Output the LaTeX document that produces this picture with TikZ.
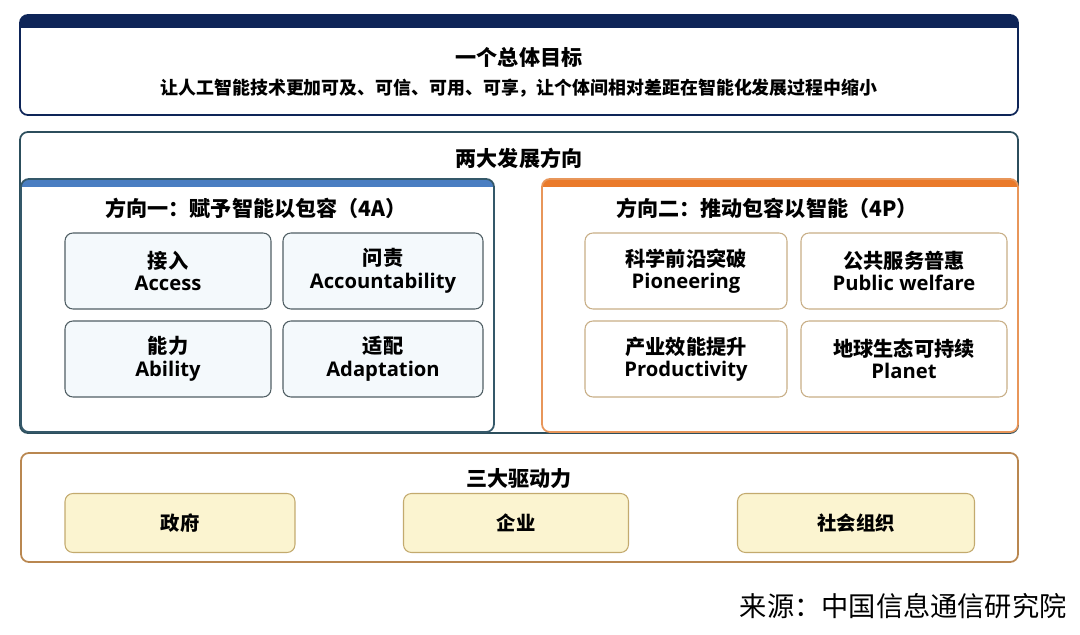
\documentclass[tikz,border=0pt]{standalone}
\usepackage{fontspec}
\setmainfont{Open Sans}
\newfontfamily\cjk{Noto Sans CJK SC}
\usetikzlibrary{positioning}
\definecolor{colornavy}{RGB}{14,37,88}
\definecolor{colorslate}{RGB}{44,78,92}
\definecolor{colorblue}{RGB}{74,126,194}
\definecolor{colorblueline}{RGB}{52,88,105}
\definecolor{colorcellfill}{RGB}{244,249,252}
\definecolor{colorcellline}{RGB}{80,95,100}
\definecolor{colororange}{RGB}{234,122,42}
\definecolor{colororangeline}{RGB}{232,150,90}
\definecolor{colortan}{RGB}{200,175,135}
\definecolor{colorbrown}{RGB}{185,135,80}
\definecolor{coloryellow}{RGB}{251,244,208}
\definecolor{coloryellowline}{RGB}{195,170,110}

\begin{document}
\begin{tikzpicture}[
    x=0.02cm,y=-0.02cm,
    frame/.style={rounded corners=4.5pt,line width=1pt},
    title/.style={font={\fontsize{12}{14}\cjk\bfseries},inner sep=0pt},
    subtitle/.style={font={\fontsize{10.2}{12}\cjk\bfseries},inner sep=0pt},
    head/.style={font={\fontsize{12}{14}\cjk\bfseries},inner sep=0pt},
    cell/.style={rectangle,rounded corners=4.5pt,line width=0.6pt,align=center,
        font={\fontsize{11.5}{12.8}\selectfont\bfseries},minimum height=1.52cm},
    cellA/.style={cell,draw=colorcellline,fill=colorcellfill},
    cellP/.style={cell,draw=colortan,fill=white},
    driver/.style={rectangle,rounded corners=4.5pt,line width=0.6pt,draw=coloryellowline,
        fill=coloryellow,minimum height=1.18cm,font={\fontsize{11}{13}\cjk\bfseries}}
]
    \useasboundingbox (0,0) rectangle (1080,635);

    % overall goal
    \begin{scope}
        \clip[rounded corners=4.5pt] (20,15) rectangle (1018,115);
        \fill[white] (20,15) rectangle (1018,115);
        \fill[colornavy] (20,15) rectangle (1018,28);
    \end{scope}
    \draw[frame,draw=colornavy] (20,15) rectangle (1018,115);
    \node[title] (goal) at (519,57) {一个总体目标};
    \node[subtitle] (goaltxt) at (519,88) {让人工智能技术更加可及、可信、可用、可享，让个体间相对差距在智能化发展过程中缩小};

    % two directions
    \draw[frame,draw=colorslate] (20,132) rectangle (1018,433);
    \node[title] (dirs) at (519,158) {两大发展方向};

    \begin{scope}
        \clip[rounded corners=4.5pt] (21,179) rectangle (494,432);
        \fill[white] (21,179) rectangle (494,432);
        \fill[colorblue] (21,179) rectangle (494,187);
    \end{scope}
    \draw[frame,draw=colorblueline] (21,179) rectangle (494,432);
    \node[head] (dirA) at (256,208) {方向一：赋予智能以包容（4A）};

    \begin{scope}
        \clip[rounded corners=4.5pt] (542,179) rectangle (1018,432);
        \fill[white] (542,179) rectangle (1018,432);
        \fill[colororange] (542,179) rectangle (1018,187);
    \end{scope}
    \draw[frame,draw=colororangeline] (542,179) rectangle (1018,432);
    \node[head] (dirP) at (767,208) {方向二：推动包容以智能（4P）};

    \node[cellA,minimum width=4.12cm] (access) at (168,271) {{\cjk 接入}\\Access};
    \node[cellA,minimum width=4.0cm] (account) at (383,271) {{\cjk 问责}\\Accountability};
    \node[cellA,minimum width=4.12cm] (ability) at (168,359) {{\cjk 能力}\\Ability};
    \node[cellA,minimum width=4.0cm] (adapt) at (383,359) {{\cjk 适配}\\Adaptation};

    \node[cellP,minimum width=4.04cm] (pioneer) at (686,271) {{\cjk 科学前沿突破}\\Pioneering};
    \node[cellP,minimum width=4.12cm] (public) at (904,271) {{\cjk 公共服务普惠}\\Public welfare};
    \node[cellP,minimum width=4.04cm] (product) at (686,359) {{\cjk 产业效能提升}\\Productivity};
    \node[cellP,minimum width=4.12cm] (planet) at (904,359) {{\cjk 地球生态可持续}\\Planet};

    % three drivers
    \draw[frame,draw=colorbrown] (21,453) rectangle (1018,562);
    \node[title] (drivers) at (519,479) {三大驱动力};
    \node[driver,minimum width=4.6cm] (gov) at (180,523) {政府};
    \node[driver,minimum width=4.5cm] (firm) at (516,523) {企业};
    \node[driver,minimum width=4.74cm] (society) at (856,523) {社会组织};

    \node[anchor=east,inner sep=0pt,font={\fontsize{15.5}{18}\cjk}] (source) at (1067,606) {来源：中国信息通信研究院};

\end{tikzpicture}
\end{document}
